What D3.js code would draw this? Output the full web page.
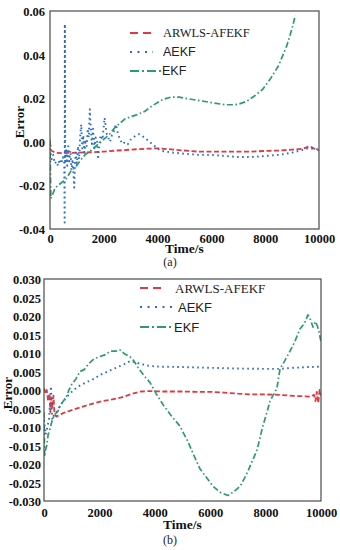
<!DOCTYPE html>
<html><head><meta charset="utf-8">
<script src="https://cdn.jsdelivr.net/npm/d3@7"></script>
<style>body{margin:0;background:#fff}svg{display:block}</style>
</head><body>
<svg id="c" width="340" height="550"></svg>
<script>
// ---------- data ----------
const seriesNames = ["ARWLS-AFEKF", "AEKF", "EKF"];
const xTickLabels = ["0", "2000", "4000", "6000", "8000", "10000"];
const xTickValues = [0, 2000, 4000, 6000, 8000, 10000];
const aYTickValues = [0.06, 0.04, 0.02, 0.00, -0.02, -0.04];
const aYTickLabels = ["0.06", "0.04", "0.02", "0.00", "-0.02", "-0.04"];
const bYTickValues = [0.030, 0.025, 0.020, 0.015, 0.010, 0.005, 0.000, -0.005, -0.010, -0.015, -0.020, -0.025, -0.030];
const bYTickLabels = ["0.030", "0.025", "0.020", "0.015", "0.010", "0.005", "0.000", "-0.005", "-0.010", "-0.015", "-0.020", "-0.025", "-0.030"];

// panel (a)  [time, error]
const aARWLS = [[0,0.0],[40,-0.004],[200,-0.005],[500,-0.0052],[1000,-0.005],[1500,-0.0048],[2000,-0.0045],[2500,-0.004],[3000,-0.0036],[3500,-0.0032],[4000,-0.003],[4500,-0.0035],[5000,-0.004],[5500,-0.0045],[6000,-0.0045],[6500,-0.0045],[7000,-0.0045],[7500,-0.0045],[8000,-0.0042],[8500,-0.004],[9000,-0.0036],[9400,-0.0032],[9650,-0.002],[9800,-0.003],[10000,-0.004]];
const aAEKF = [[0,-0.003],[60,-0.008],[120,-0.006],[180,-0.010],[240,-0.009],[300,-0.011],[360,-0.008],[420,-0.010],[480,-0.007],[530,-0.009],[545,-0.037],[552,0.054],[565,-0.010],[600,-0.003],[640,-0.011],[680,-0.002],[720,-0.009],[760,-0.004],[800,-0.013],[840,-0.008],[870,-0.014],[900,-0.021],[930,-0.010],[960,-0.005],[1000,-0.011],[1040,-0.002],[1080,-0.008],[1120,0.002],[1160,0.008],[1200,-0.003],[1240,0.003],[1280,-0.006],[1320,0.001],[1360,-0.002],[1400,0.006],[1440,0.002],[1480,0.015],[1500,0.010],[1530,0.004],[1560,-0.001],[1600,0.006],[1650,-0.003],[1700,0.002],[1750,0.000],[1790,-0.007],[1830,-0.002],[1880,0.003],[1950,0.001],[2030,0.011],[2060,0.008],[2100,0.004],[2160,0.002],[2230,0.000],[2300,0.003],[2380,0.005],[2450,0.008],[2520,0.004],[2600,0.001],[2700,-0.001],[2800,0.000],[2900,-0.001],[3000,0.001],[3100,0.002],[3200,0.003],[3300,0.0035],[3400,0.003],[3500,0.002],[3700,0.000],[3900,-0.002],[4100,-0.004],[4300,-0.0045],[4600,-0.005],[5000,-0.0055],[5500,-0.006],[6000,-0.006],[6500,-0.0065],[7000,-0.007],[7500,-0.007],[8000,-0.0065],[8500,-0.006],[9000,-0.005],[9300,-0.004],[9600,-0.003],[10000,-0.0035]];
const aEKF = [[0,0.001],[30,-0.026],[100,-0.024],[200,-0.021],[300,-0.020],[400,-0.019],[500,-0.018],[600,-0.017],[700,-0.015],[800,-0.013],[930,-0.012],[1100,-0.009],[1300,-0.006],[1520,-0.004],[1800,-0.001],[2080,0.002],[2250,0.004],[2410,0.0065],[2600,0.0085],[2790,0.0105],[3000,0.0115],[3250,0.0125],[3530,0.014],[3800,0.0165],[4000,0.018],[4200,0.0195],[4500,0.0205],[4800,0.0205],[5000,0.020],[5500,0.019],[6000,0.018],[6500,0.017],[6800,0.017],[7000,0.0172],[7300,0.0185],[7600,0.021],[7900,0.024],[8200,0.029],[8500,0.035],[8800,0.044],[9000,0.052],[9120,0.058]];

// panel (b)  [time, error]
const bARWLS = [[0,0.0005],[60,-0.001],[100,0.000],[150,-0.003],[200,-0.001],[230,-0.006],[260,-0.002],[300,-0.005],[340,-0.0015],[380,-0.0065],[450,-0.0072],[550,-0.0068],[700,-0.0062],[900,-0.0057],[1100,-0.0052],[1400,-0.0045],[1700,-0.0038],[2000,-0.0032],[2400,-0.0026],[2800,-0.002],[3200,-0.001],[3500,-0.0004],[3800,-0.0003],[4200,-0.0004],[5000,-0.0004],[5500,-0.0005],[6000,-0.0005],[6500,-0.0007],[7000,-0.001],[7500,-0.0012],[8000,-0.0012],[8500,-0.0013],[9000,-0.0016],[9400,-0.0017],[9600,-0.0018],[9750,-0.0013],[9800,-0.003],[9850,-0.0005],[9900,-0.0035],[9950,0.0],[10000,-0.0015]];
const bAEKF = [[0,-0.008],[60,-0.012],[120,-0.010],[180,-0.008],[220,-0.003],[250,0.001],[270,-0.004],[300,-0.008],[350,-0.007],[450,-0.006],[600,-0.004],[800,-0.002],[1000,-0.0005],[1200,0.0008],[1500,0.002],[1800,0.003],[2000,0.004],[2300,0.005],[2600,0.006],[2900,0.007],[3100,0.0078],[3300,0.0075],[3500,0.007],[3800,0.0065],[4200,0.0063],[5000,0.0062],[6000,0.006],[7000,0.0058],[8000,0.0057],[8500,0.0057],[9000,0.006],[9500,0.0062],[10000,0.0063]];
const bEKF = [[0,-0.006],[20,-0.018],[60,-0.016],[100,-0.015],[150,-0.012],[220,-0.0105],[300,-0.008],[400,-0.0065],[500,-0.0058],[600,-0.004],[700,-0.003],[800,-0.002],[900,0.000],[1000,0.0015],[1150,0.003],[1300,0.005],[1450,0.0055],[1600,0.007],[1800,0.0084],[2000,0.009],[2200,0.0095],[2400,0.0105],[2600,0.0105],[2750,0.0108],[2900,0.0098],[3100,0.009],[3250,0.0078],[3400,0.006],[3600,0.004],[3830,0.002],[4050,-0.001],[4300,-0.004],[4600,-0.007],[4900,-0.0097],[5200,-0.014],[5400,-0.0175],[5630,-0.0213],[5900,-0.024],[6100,-0.026],[6350,-0.0276],[6640,-0.0285],[6850,-0.0275],[7080,-0.026],[7300,-0.023],[7550,-0.0187],[7700,-0.016],[7900,-0.0097],[8050,-0.006],[8160,-0.003],[8300,-0.001],[8410,0.0005],[8520,0.0057],[8700,0.008],[8880,0.0105],[9050,0.013],[9240,0.0165],[9400,0.018],[9530,0.0203],[9620,0.019],[9710,0.017],[9800,0.0185],[9860,0.0175],[9920,0.016],[10000,0.013]];

// ---------- styles ----------
const colors = ["#e0393f", "#2b6cc4", "#2e9b6d"];
const dashes = ["5,2.5", "1.6,3.4", "6,2.5,1.6,2.5"];
const widths = [1.8, 1.9, 1.7];
const legendDashes = ["8,5", "2,5.5", "9,3,2,3"];

const svg = d3.select("#c");
const serif = "'Liberation Serif','Times New Roman',serif";
const sans = "'Liberation Sans',Arial,sans-serif";

function panel(cfg) {
  const x = d3.scaleLinear().domain([0, 10000]).range([cfg.left, cfg.right]);
  const y = d3.scaleLinear().domain(cfg.yDomain).range([cfg.bottom, cfg.top]);
  const g = svg.append("g");
  const clipId = "clip" + cfg.id;
  svg.append("clipPath").attr("id", clipId).append("rect")
    .attr("x", cfg.left).attr("y", cfg.top - 2)
    .attr("width", cfg.right - cfg.left).attr("height", cfg.bottom - cfg.top + 2);

  const ya = d3.axisLeft(y).tickValues(cfg.yTicks).tickSize(0).tickPadding(0)
    .tickFormat((d, i) => cfg.yLabels[i]);
  const yg = g.append("g").attr("transform", `translate(${cfg.yLabelX},0)`).call(ya);
  yg.select(".domain").remove();
  yg.selectAll("text").attr("font-family", serif).attr("font-weight", "bold")
    .attr("font-size", cfg.tickFont).attr("fill", "#111").attr("dy", "0.36em");

  const xa = d3.axisBottom(x).tickValues(xTickValues).tickSize(0).tickPadding(0)
    .tickFormat((d, i) => xTickLabels[i]);
  const xg = g.append("g").attr("transform", `translate(0,${cfg.xLabelY})`).call(xa);
  xg.select(".domain").remove();
  xg.selectAll("text").attr("font-family", serif).attr("font-weight", "bold")
    .attr("font-size", cfg.tickFont).attr("fill", "#111").attr("dy", 0);

  const line = d3.line().x(d => x(d[0])).y(d => y(d[1]));
  const lg = g.append("g").attr("clip-path", `url(#${clipId})`);
  cfg.series.forEach((s, i) => {
    lg.append("path").datum(s).attr("d", line).attr("fill", "none")
      .attr("stroke", colors[i]).attr("stroke-width", widths[i])
      .attr("stroke-dasharray", dashes[i]).attr("stroke-linejoin", "round");
  });

  g.append("rect").attr("x", cfg.left).attr("y", cfg.top)
    .attr("width", cfg.right - cfg.left).attr("height", cfg.bottom - cfg.top)
    .attr("fill", "none").attr("stroke", "#4a4a4a").attr("stroke-width", 1.2);

  seriesNames.forEach((name, i) => {
    const ly = cfg.legendY[i];
    g.append("line").attr("x1", cfg.legX1).attr("x2", cfg.legX2[i])
      .attr("y1", ly).attr("y2", ly).attr("stroke", colors[i])
      .attr("stroke-width", 1.8).attr("stroke-dasharray", legendDashes[i]);
    g.append("text").attr("x", cfg.legTextX[i]).attr("y", ly).attr("dy", "0.35em")
      .attr("font-family", i === 0 ? serif : sans).attr("font-size", cfg.legFont)
      .attr("fill", "#222").text(name);
  });

  g.append("text").attr("x", (cfg.left + cfg.right) / 2).attr("y", cfg.titleY)
    .attr("text-anchor", "middle").attr("font-family", serif).attr("font-weight", "bold")
    .attr("font-size", 13.5).attr("fill", "#111").text("Time/s");
  g.append("text").attr("transform", `translate(${cfg.errX},${cfg.errY}) rotate(-90)`)
    .attr("text-anchor", "middle").attr("font-family", serif).attr("font-weight", "bold")
    .attr("font-size", 13).attr("fill", "#111").text("Error");
  g.append("text").attr("x", 170).attr("y", cfg.capY).attr("text-anchor", "middle")
    .attr("font-family", serif).attr("font-size", 12).attr("fill", "#222").text(cfg.caption);
}

panel({
  id: "a", left: 50, right: 319, top: 11, bottom: 229,
  yDomain: [-0.04, 0.06], yTicks: aYTickValues, yLabels: aYTickLabels,
  yLabelX: 45, xLabelY: 243, tickFont: 12.5,
  series: [aARWLS, aAEKF, aEKF],
  legendY: [33, 52, 71], legX1: 130, legX2: [153, 153, 161], legTextX: [163, 163, 162], legFont: 12.5,
  titleY: 253, errX: 24, errY: 122, capY: 266, caption: "(a)"
});
panel({
  id: "b", left: 44, right: 321, top: 279, bottom: 501,
  yDomain: [-0.03, 0.03], yTicks: bYTickValues, yLabels: bYTickLabels,
  yLabelX: 41, xLabelY: 517, tickFont: 12.5,
  series: [bARWLS, bAEKF, bEKF],
  legendY: [288, 307, 327], legX1: 140, legX2: [163, 174, 173], legTextX: [175, 178, 174], legFont: 13,
  titleY: 529, errX: 12, errY: 393, capY: 544, caption: "(b)"
});
</script>
</body></html>
